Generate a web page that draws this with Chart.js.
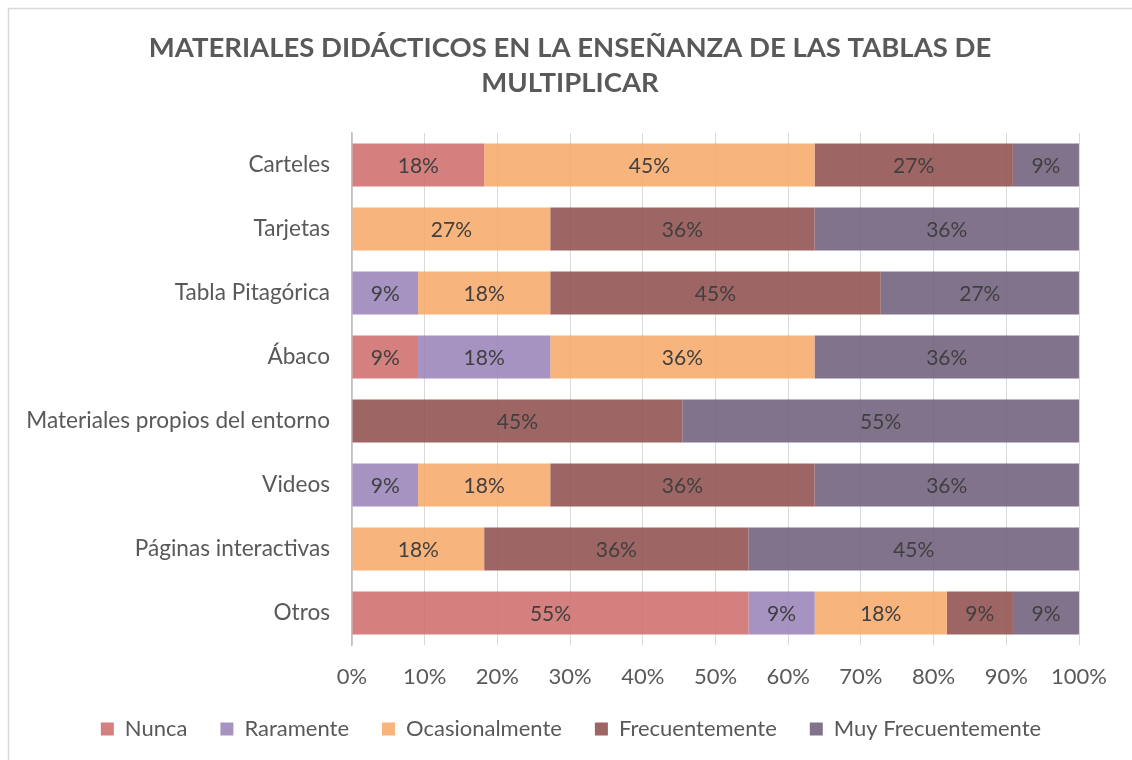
<!DOCTYPE html>
<html>
<head>
<meta charset="utf-8">
<script src="https://cdn.jsdelivr.net/npm/chart.js@4/dist/chart.umd.min.js"></script>
<style>
html,body{margin:0;padding:0;background:#fff;}
#wrap{width:1132px;height:760px;position:relative;}
</style>
</head>
<body>
<div id="wrap"><canvas id="c" width="1132" height="760"></canvas></div>
<script>
const titleLines = ["MATERIALES DIDÁCTICOS EN LA ENSEÑANZA DE LAS TABLAS DE", "MULTIPLICAR"];
const categories = ["Carteles","Tarjetas","Tabla Pitagórica","Ábaco","Materiales propios del entorno","Videos","Páginas interactivas","Otros"];
const seriesNames = ["Nunca","Raramente","Ocasionalmente","Frecuentemente","Muy Frecuentemente"];
const nunca          = [18.18, 0,     0,     9.09,  0,     0,     0,     54.55];
const raramente      = [0,     0,     9.09,  18.18, 0,     9.09,  0,     9.09];
const ocasionalmente = [45.45, 27.27, 18.18, 36.36, 0,     18.18, 18.18, 18.18];
const frecuentemente = [27.27, 36.36, 45.45, 0,     45.45, 36.36, 36.36, 9.09];
const muyFrecuente   = [9.09,  36.36, 27.27, 36.36, 54.55, 36.36, 45.45, 9.09];
const tickLabels = ["0%","10%","20%","30%","40%","50%","60%","70%","80%","90%","100%"];
const colors = ["rgba(205,110,109,0.88)","rgba(150,128,182,0.85)","rgba(247,170,107,0.88)","rgba(144,80,78,0.88)","rgba(111,96,123,0.88)"];
const seriesData = [nunca, raramente, ocasionalmente, frecuentemente, muyFrecuente];

const FONT = "Lato, 'Open Sans', sans-serif";
const TXT = "#595959";

const labelPlugin = {
  id: 'segLabels',
  afterDatasetsDraw(chart) {
    const ctx = chart.ctx;
    ctx.save();
    ctx.font = "21px " + FONT;
    ctx.fillStyle = "#404040";
    ctx.textAlign = "center";
    ctx.textBaseline = "middle";
    chart.data.datasets.forEach((ds, di) => {
      const meta = chart.getDatasetMeta(di);
      meta.data.forEach((bar, i) => {
        const v = ds.data[i];
        if (!v) return;
        const p = bar.getProps(['x','base','y'], true);
        ctx.fillText(Math.round(v) + "%", (p.x + p.base) / 2, p.y + 1);
      });
    });
    ctx.restore();
  }
};
const decoPlugin = {
  id: 'deco',
  afterDraw(chart) {
    const ctx = chart.ctx;
    ctx.save();
    ctx.strokeStyle = "#d9d9d9";
    ctx.lineWidth = 1.5;
    ctx.beginPath();
    ctx.moveTo(8.5, 760);
    ctx.lineTo(8.5, 8.5);
    ctx.lineTo(1132, 8.5);
    ctx.stroke();
    ctx.fillStyle = TXT;
    ctx.font = "bold 27.5px " + FONT;
    ctx.textAlign = "center";
    ctx.textBaseline = "middle";
    ctx.fillText(titleLines[0], 570, 48);
    ctx.fillText(titleLines[1], 570, 83);
    ctx.restore();
  }
};

new Chart(document.getElementById('c'), {
  type: 'bar',
  data: {
    labels: categories,
    datasets: seriesNames.map((n, i) => ({
      label: n,
      data: seriesData[i],
      backgroundColor: colors[i],
      borderWidth: 0,
      barPercentage: 0.67,
      categoryPercentage: 1.0
    }))
  },
  options: {
    indexAxis: 'y',
    responsive: false,
    animation: false,
    devicePixelRatio: 1,
    layout: { padding: { top: 133, left: 10, right: 0, bottom: 10 } },
    plugins: {
      title: { display: false },
      legend: {
        position: 'bottom',
        labels: {
          color: TXT,
          font: { family: FONT, size: 22 },
          boxWidth: 13, boxHeight: 13,
          padding: 33
        }
      },
      tooltip: { enabled: false }
    },
    scales: {
      x: {
        stacked: true,
        min: 0, max: 100,
        ticks: {
          stepSize: 10,
          color: TXT,
          font: { family: FONT, size: 22, lineHeight: 1 },
          padding: 21,
          callback: (v, i) => tickLabels[i]
        },
        grid: { color: "#d9d9d9", drawTicks: false },
        border: { display: false },
        afterFit(scale) { scale.height = 40; }
      },
      y: {
        stacked: true,
        ticks: { color: TXT, font: { family: FONT, size: 22.6 }, padding: 22 },
        grid: { display: false, drawTicks: false },
        border: { display: true, color: "#bfbfbf", width: 1.5 },
        afterFit(scale) { scale.width = 342; }
      },
      yRight: {
        type: 'category',
        axis: 'y',
        position: 'right',
        labels: categories,
        ticks: { display: false },
        grid: { display: false, drawTicks: false },
        border: { display: false },
        afterFit(scale) { scale.width = 53; }
      }
    }
  },
  plugins: [labelPlugin, decoPlugin]
});
</script>
</body>
</html>
